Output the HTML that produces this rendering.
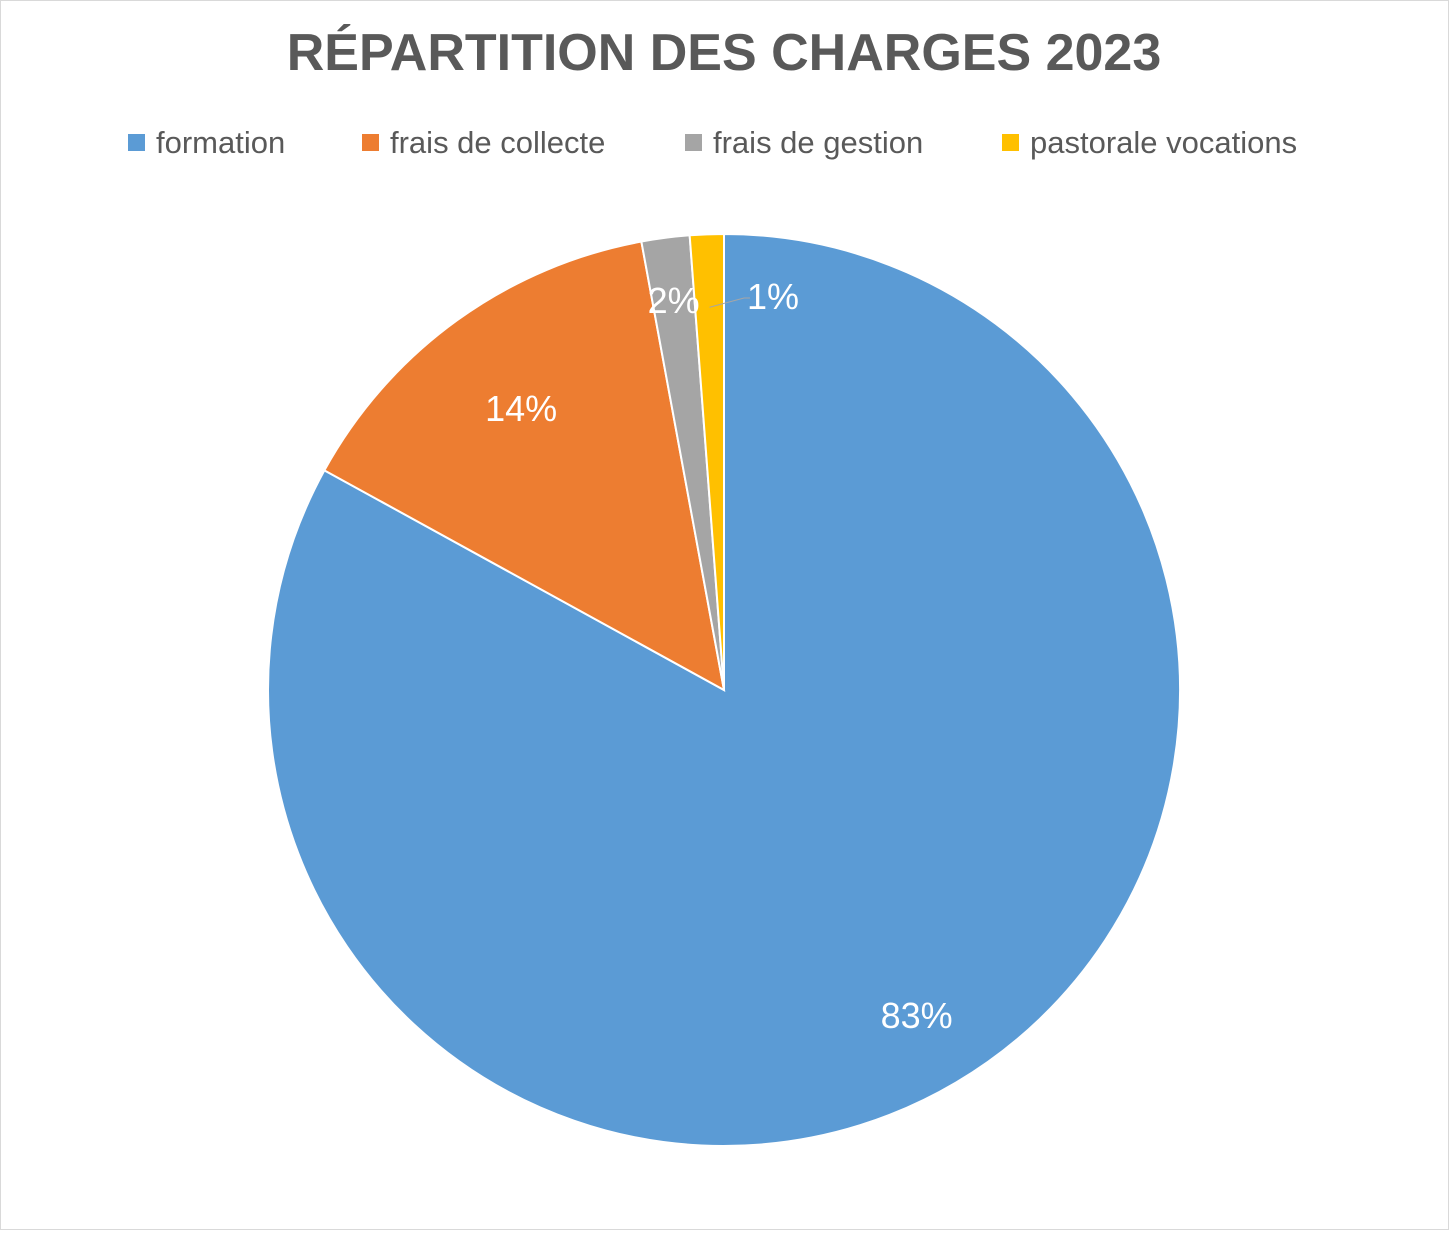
<!DOCTYPE html>
<html><head><meta charset="utf-8"><style>
html,body{margin:0;padding:0;background:#fff}
body{width:1449px;height:1230px;overflow:hidden;font-family:"Liberation Sans",sans-serif}
</style></head><body>
<svg id="chart" width="1449" height="1230" xmlns="http://www.w3.org/2000/svg">
<rect x="0.5" y="0.5" width="1448" height="1229" fill="#fff" stroke="#d9d9d9"/>
<text x="724" y="70" text-anchor="middle" font-size="52" font-weight="bold" fill="#595959">RÉPARTITION DES CHARGES 2023</text>
<g id="legend"></g>
<g id="slices"></g>
<g id="labels"></g>
</svg>
<script>
const categories = ["formation","frais de collecte","frais de gestion","pastorale vocations"];
const values = [83.0, 14.1, 1.7, 1.2];
const labels = ["83%","14%","2%","1%"];
const colors = ["#5b9bd5","#ed7d31","#a5a5a5","#ffc000"];
const NS="http://www.w3.org/2000/svg";
const cx=724, cy=690, r=456;
const total=values.reduce((a,b)=>a+b,0);
const sl=document.getElementById('slices'), lb=document.getElementById('labels'), lg=document.getElementById('legend');
function pt(a,rr){return [cx+rr*Math.sin(a), cy-rr*Math.cos(a)];}
let acc=0;
values.forEach((v,i)=>{
  const a0=acc/total*2*Math.PI; acc+=v; const a1=acc/total*2*Math.PI;
  const p0=pt(a0,r), p1=pt(a1,r);
  const large=(a1-a0)>Math.PI?1:0;
  const p=document.createElementNS(NS,'path');
  p.setAttribute('d',`M${cx},${cy} L${p0[0]},${p0[1]} A${r},${r} 0 ${large} 1 ${p1[0]},${p1[1]} Z`);
  p.setAttribute('fill',colors[i]); p.setAttribute('stroke','#fff'); p.setAttribute('stroke-width','2');
  
  
  sl.appendChild(p);
  const am=(a0+a1)/2;
  let lp;
  if(i===3){
    lp=[773,297];
    const e=pt(am,r*0.84);
    const ln=document.createElementNS(NS,'polyline');
    ln.setAttribute('points',`${e[0]},${e[1]} 744,298 750,298`);
    ln.setAttribute('fill','none'); ln.setAttribute('stroke','#a6a6a6'); ln.setAttribute('stroke-width','1');
    
    
    lb.appendChild(ln);
  } else {
    const rf = i===0?0.83:(i===1?0.76:0.86);
    lp=pt(am,rf*r);
  }
  const t=document.createElementNS(NS,'text');
  t.setAttribute('x',lp[0]); t.setAttribute('y',lp[1]+12);
  t.setAttribute('text-anchor','middle'); t.setAttribute('font-size','36'); t.setAttribute('fill','#fff');
  t.textContent=labels[i];
  
  
  lb.appendChild(t);
});
const lx=[128,362,685,1002];
categories.forEach((c,i)=>{
  const g=document.createElementNS(NS,'g');
  
  
  const s=document.createElementNS(NS,'rect');
  s.setAttribute('x',lx[i]); s.setAttribute('y',134); s.setAttribute('width',17); s.setAttribute('height',17); s.setAttribute('fill',colors[i]);
  const t=document.createElementNS(NS,'text');
  t.setAttribute('x',lx[i]+28); t.setAttribute('y',153); t.setAttribute('font-size','31'); t.setAttribute('fill','#595959');
  t.textContent=c;
  g.appendChild(s); g.appendChild(t); lg.appendChild(g);
});
</script>
</body></html>
